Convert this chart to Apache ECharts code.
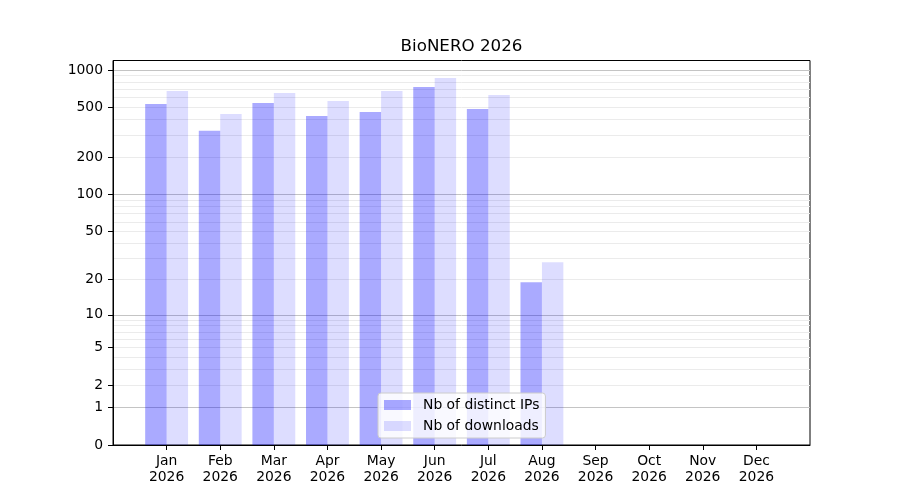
<!DOCTYPE html>
<html>
<head>
<meta charset="utf-8">
<script src="https://cdn.jsdelivr.net/npm/echarts@6/dist/echarts.min.js"></script>
<style>
  html, body { margin: 0; padding: 0; background: #fff; }
  #main { width: 900px; height: 500px; }
</style>
</head>
<body>
<div id="main"></div>
<script>
// data
var months = ['Jan', 'Feb', 'Mar', 'Apr', 'May', 'Jun', 'Jul', 'Aug', 'Sep', 'Oct', 'Nov', 'Dec'];
var year = '2026';
var distinctIPs = [534, 325, 544, 428, 460, 730, 487, 19, 0, 0, 0, 0];
var downloads = [679, 444, 654, 564, 679, 862, 630, 28, 0, 0, 0, 0];
var yTicks = [0, 1, 2, 5, 10, 20, 50, 100, 200, 500, 1000];
var majorGrid = [1, 10, 100, 1000];
var minorGrid = [2, 3, 4, 5, 6, 7, 8, 9, 20, 30, 40, 50, 60, 70, 80, 90, 200, 300, 400, 500, 600, 700, 800, 900];

// the y scale is log10(1 + v)
function fwd(v) { return Math.log10(1 + v); }
function inv(t) { return Math.round(Math.pow(10, t) - 1); }

var yMax = 3.076;
var font = 'DejaVu Sans';

// one empty slot on each side, like the reference margins
var cats = [''].concat(months.map(function (m) { return m + '\n' + year; })).concat(['']);
function pad(arr) { return [null].concat(arr.map(fwd)).concat([null]); }

var myChart = echarts.init(document.getElementById('main'), null, { renderer: 'canvas' });

function yAxisBase(values, opts) {
    return Object.assign({
        type: 'value',
        min: 0,
        max: yMax,
        position: 'left',
        axisLine: { show: false },
        axisTick: { show: false, customValues: values },
        axisLabel: { show: false, customValues: values },
        splitLine: { show: false }
    }, opts);
}

var option = {
    animation: false,
    title: {
        text: 'BioNERO ' + year,
        left: 461.5,
        top: 38,
        textAlign: 'center',
        padding: 0,
        textStyle: { fontFamily: font, fontSize: 16.7, fontWeight: 'normal', color: '#000' }
    },
    legend: {
        orient: 'vertical',
        left: 378,
        top: 393,
        padding: [5, 6, 5, 6],
        itemWidth: 27,
        itemHeight: 10,
        itemGap: 7,
        borderColor: '#cccccc',
        borderWidth: 1,
        borderRadius: 3,
        backgroundColor: 'rgba(255,255,255,0.8)',
        icon: 'rect',
        textStyle: { fontFamily: font, fontSize: 13.9, color: '#000', padding: [0, 0, 0, 7] },
        data: ['Nb of distinct IPs', 'Nb of downloads']
    },
    grid: {
        left: 113,
        right: 90,
        top: 60.5,
        bottom: 55,
        containLabel: false,
        outerBoundsMode: 'none',
        show: true,
        borderColor: '#000',
        borderWidth: 1
    },
    xAxis: {
        type: 'category',
        data: cats,
        boundaryGap: false,
        axisLine: { lineStyle: { color: '#000', width: 1 } },
        axisTick: {
            length: 5,
            lineStyle: { color: '#000' },
            interval: function (i, v) { return v !== ''; }
        },
        axisLabel: {
            interval: 0,
            margin: 8,
            fontFamily: font,
            fontSize: 13.9,
            lineHeight: 16,
            color: '#000'
        },
        splitLine: { show: false }
    },
    yAxis: [
        yAxisBase(yTicks.map(fwd), {
            axisLine: { show: true, lineStyle: { color: '#000', width: 1 } },
            axisTick: { show: true, length: 5, lineStyle: { color: '#000' }, customValues: yTicks.map(fwd) },
            axisLabel: {
                show: true,
                customValues: yTicks.map(fwd),
                margin: 10,
                fontFamily: font,
                fontSize: 13.9,
                color: '#000',
                formatter: function (t) { return String(inv(t)); }
            }
        }),
        yAxisBase(minorGrid.map(fwd), {
            splitLine: { show: true, lineStyle: { color: '#ebebeb', width: 1 } }
        }),
        yAxisBase(majorGrid.map(fwd), {
            splitLine: { show: true, lineStyle: { color: '#c4c4c4', width: 1 } }
        })
    ],
    series: [
        {
            name: 'Nb of distinct IPs',
            type: 'bar',
            yAxisIndex: 0,
            data: pad(distinctIPs),
            barWidth: '40%',
            barGap: '0%',
            itemStyle: { color: 'rgba(0,0,255,0.333)' }
        },
        {
            name: 'Nb of downloads',
            type: 'bar',
            yAxisIndex: 0,
            data: pad(downloads),
            barWidth: '40%',
            barGap: '0%',
            itemStyle: { color: 'rgba(0,0,255,0.135)' }
        }
    ]
};

myChart.setOption(option);
</script>
</body>
</html>
